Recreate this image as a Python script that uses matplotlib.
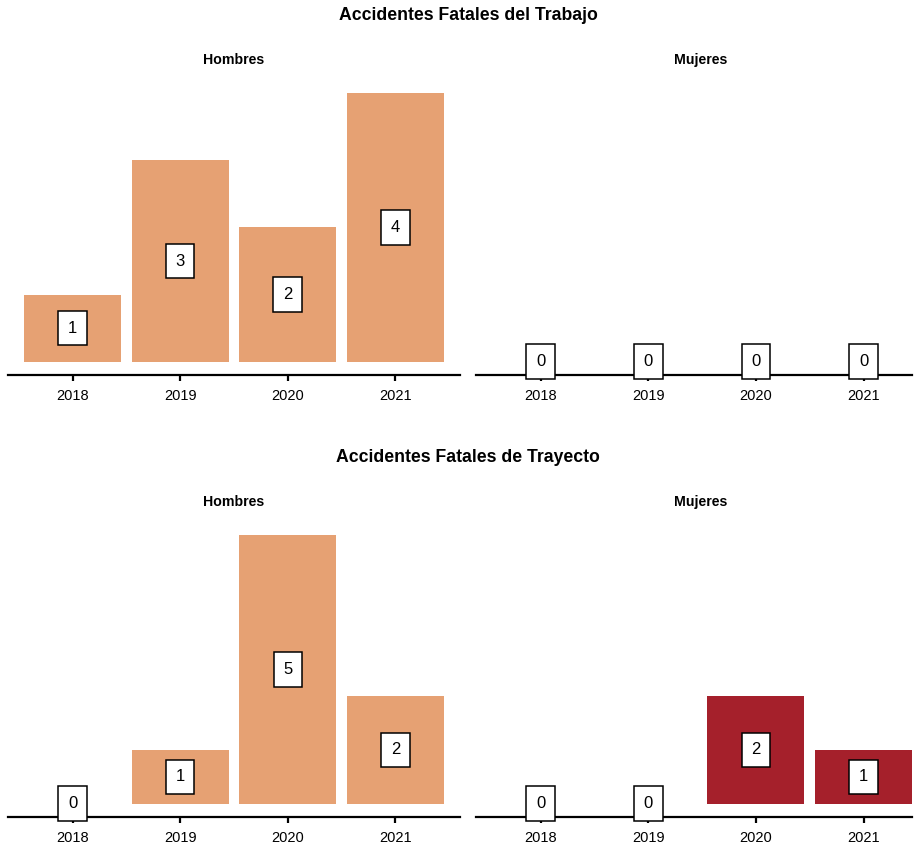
import matplotlib.pyplot as plt

plt.rcParams["font.family"] = ["Liberation Sans", "DejaVu Sans"]

years = ["2018", "2019", "2020", "2021"]
trabajo_hombres = [1, 3, 2, 4]
trabajo_mujeres = [0, 0, 0, 0]
trayecto_hombres = [0, 1, 5, 2]
trayecto_mujeres = [0, 0, 2, 1]

row_titles = ["Accidentes Fatales del Trabajo", "Accidentes Fatales de Trayecto"]
facet_names = ["Hombres", "Mujeres"]
facet_colors = ["#E6A173", "#A5202B"]

W, H = 918, 846


def px_axes(fig, x0, y0, x1, y1):
    # pixel box (top-left origin) -> figure fraction
    return fig.add_axes([x0 / W, 1 - y1 / H, (x1 - x0) / W, (y1 - y0) / H])


def draw_panel(ax, values, color, ymax, right_exp):
    xs = range(len(years))
    ax.bar(xs, values, width=0.9, color=color, zorder=1)
    for x, v in zip(xs, values):
        ax.text(x, v / 2, str(v), ha="center", va="center", fontsize=12,
                zorder=3, clip_on=False,
                bbox=dict(boxstyle="square,pad=0.58", fc="white", ec="black", lw=1.1))
    ax.set_xlim(-0.6, len(years) - 1 + right_exp)
    pad = ymax * 0.05
    ax.set_ylim(-pad, ymax + pad)
    ax.set_xticks(list(xs))
    ax.set_xticklabels(years, fontsize=10.5)
    ax.set_yticks([])
    for s in ["top", "right", "left"]:
        ax.spines[s].set_visible(False)
    ax.spines["bottom"].set_linewidth(1.6)
    ax.tick_params(axis="x", length=4, width=1.6, pad=6, colors="black")


fig = plt.figure(figsize=(W / 100, H / 100), dpi=100)

rows = [
    (trabajo_hombres, trabajo_mujeres, 80, 375),
    (trayecto_hombres, trayecto_mujeres, 522, 817),
]
# the source image is cut on the right: the right panel would end near x=926
cols = [(8, 460, 0.6, 460), (476, 912, 0.45, 926)]

for r, (hom, muj, top, bottom) in enumerate(rows):
    ymax = max(max(hom), max(muj), 1)
    fig.text(468 / W, 1 - (top - 65) / H, row_titles[r], ha="center", va="center",
             fontsize=12.7, fontweight="bold")
    for c, vals in enumerate([hom, muj]):
        x0, x1, rexp, full_x1 = cols[c]
        ax = px_axes(fig, x0, top, x1, bottom)
        draw_panel(ax, vals, facet_colors[c], ymax, rexp)
        fig.text((x0 + full_x1) / 2 / W, 1 - (top - 20) / H, facet_names[c],
                 ha="center", va="center", fontsize=10.2, fontweight="bold")

fig.savefig("out.png", dpi=100)
